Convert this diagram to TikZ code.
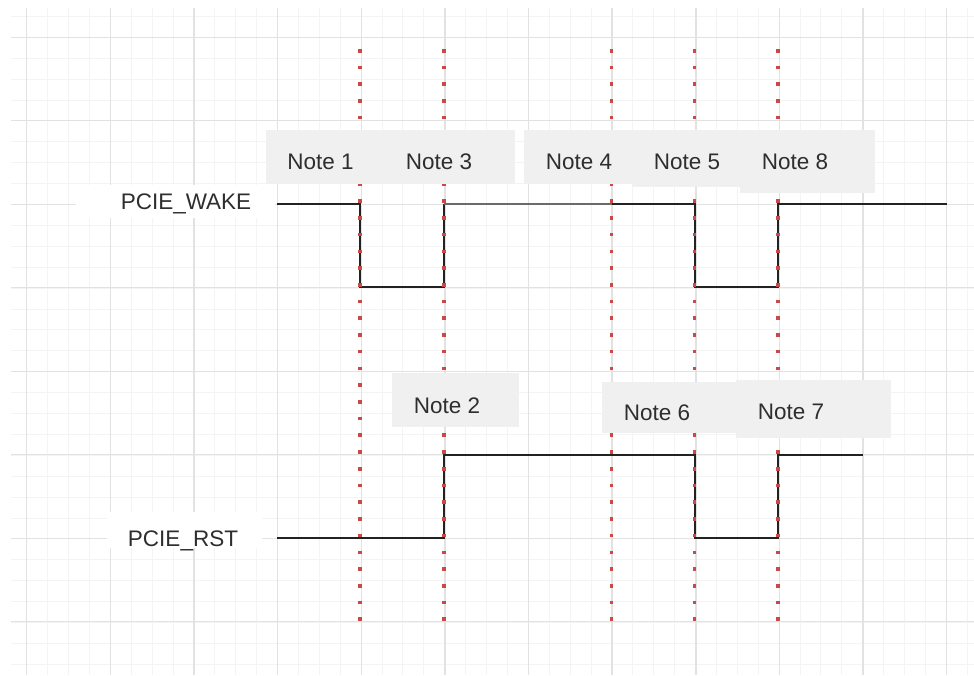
\documentclass[tikz,border=0pt]{standalone}
\usepackage{fontspec}
\setmainfont{Liberation Sans}
\definecolor{gmajor}{HTML}{E2E2E2}
\definecolor{gminor}{HTML}{F4F4F4}
\definecolor{dotred}{HTML}{C94848}
\definecolor{notefill}{HTML}{F0F0F0}
\definecolor{txt}{HTML}{2E2E2E}
\definecolor{sig}{HTML}{222222}
\definecolor{sigg}{HTML}{6A6A6A}
\tikzset{
  minorline/.style={draw=gminor, line width=1pt},
  majorline/.style={draw=gmajor, line width=1.4pt},
  signal/.style={draw=sig, line width=2pt, line join=miter},
  dotline/.style={draw=dotred, line width=3.6pt, dash pattern=on 3.6pt off 13.12pt},
  notebox/.style={fill=notefill, draw=none},
  labelbox/.style={fill=white, draw=none},
  notetext/.style={text=txt, font=\fontsize{22.5}{26}\selectfont, inner sep=0pt, anchor=center},
}
\begin{document}
\begin{tikzpicture}[x=1pt,y=-1pt]
\useasboundingbox (0,0) rectangle (974,675);
\fill[white] (0,0) rectangle (974,675);
% grid
\begin{scope}
\clip (11,8) rectangle (974,675);
\foreach \i in {0,...,46} {\draw[minorline] ({26.7+20.9*\i},8) -- ({26.7+20.9*\i},675);}
\foreach \i in {-1,...,31} {\draw[minorline] (11,{37.3+20.9*\i}) -- (974,{37.3+20.9*\i});}
\foreach \i in {0,...,11} {\draw[majorline] ({26.7+83.64*\i},8) -- ({26.7+83.64*\i},675);}
\foreach \i in {0,...,7} {\draw[majorline] (11,{37.3+83.49*\i}) -- (974,{37.3+83.49*\i});}
\end{scope}
% white label backgrounds
\fill[labelbox] (76,185) rectangle (275,218);
\fill[labelbox] (107,512) rectangle (262,548);
% PCIE_WAKE signal
\coordinate (w0) at (277,204);
\coordinate (w1) at (360,204);
\coordinate (w2) at (360,287.3);
\coordinate (w3) at (444,287.3);
\coordinate (w4) at (444,204);
\coordinate (w5) at (611.5,204);
\coordinate (w6) at (694.5,204);
\coordinate (w7) at (694.5,287.3);
\coordinate (w8) at (778,287.3);
\coordinate (w9) at (778,204);
\coordinate (w10) at (947,204);
\draw[signal] (w0) -- (w1) -- (w2) -- (w3) -- (w4);
\draw[draw=sigg, line width=2.2pt] (w4) -- (w5);
\draw[signal] (w5) -- (w6) -- (w7) -- (w8) -- (w9) -- (w10);
% PCIE_RST signal
\coordinate (r0) at (277,538.3);
\coordinate (r1) at (444,538.3);
\coordinate (r2) at (444,455);
\coordinate (r3) at (694.5,455);
\coordinate (r4) at (694.5,538.3);
\coordinate (r5) at (778,538.3);
\coordinate (r6) at (778,455);
\coordinate (r7) at (863,455);
\draw[signal] (r0) -- (r1) -- (r2) -- (r3) -- (r4) -- (r5) -- (r6) -- (r7);
% dotted markers
\foreach \x/\n in {360/d1, 444/d2, 611.5/d3, 694.5/d4, 778/d5} {
  \coordinate (\n t) at (\x,48.9);
  \coordinate (\n b) at (\x,621);
  \draw[dotline] (\n t) -- (\n b);
}
% note boxes
\fill[notebox] (266,130) rectangle (515,184);
\fill[notebox] (524,130) rectangle (636,184);
\fill[notebox] (632,130) rectangle (780,187);
\fill[notebox] (740,130) rectangle (875,193);
\fill[notebox] (392,373) rectangle (519,427);
\fill[notebox] (602,382) rectangle (740,433);
\fill[notebox] (736,380) rectangle (891,438);
% texts
\node[notetext] (lwake) at (186,203.5) {PCIE\_WAKE};
\node[notetext] (lrst) at (183,540.5) {PCIE\_RST};
\node[notetext] (n1) at (320.5,162) {Note 1};
\node[notetext] (n3) at (439,162) {Note 3};
\node[notetext] (n4) at (579,162) {Note 4};
\node[notetext] (n5) at (687,162) {Note 5};
\node[notetext] (n8) at (795,162) {Note 8};
\node[notetext] (n2) at (447,406) {Note 2};
\node[notetext] (n6) at (657,413) {Note 6};
\node[notetext] (n7) at (791,412) {Note 7};
\end{tikzpicture}
\end{document}
